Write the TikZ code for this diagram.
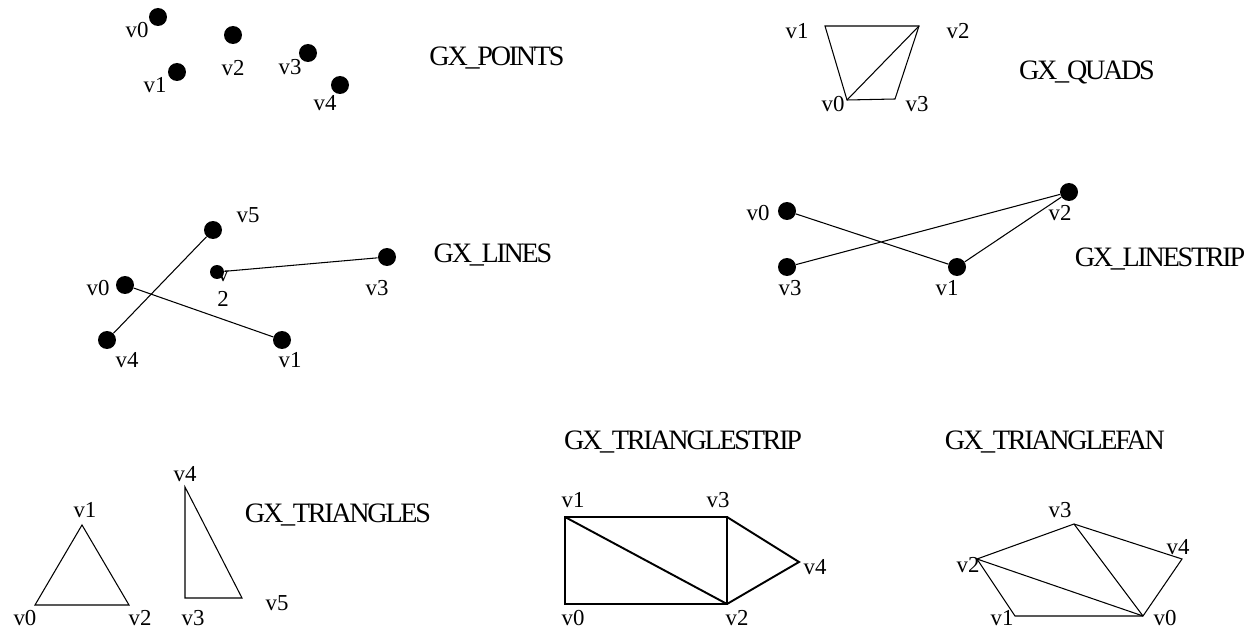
\documentclass[tikz,border=0pt]{standalone}
\usepackage{fontspec}
\setmainfont{Liberation Serif}
\newcommand{\vfont}{\fontsize{13}{14.5}\selectfont}
\newcommand{\gxfont}{\fontsize{16}{18}\selectfont\addfontfeatures{LetterSpace=-8}}

\begin{document}
\begin{tikzpicture}[
  x=0.02cm, y=-0.02cm,
  dot/.style={circle, fill=black, inner sep=0pt, minimum size=0.36cm},
  smalldot/.style={dot, minimum size=0.28cm},
  vlabel/.style={inner sep=0pt, font=\vfont},
  gxtitle/.style={inner sep=0pt, font=\gxfont},
  edge/.style={draw=black, line width=0.6pt},
  boldedge/.style={draw=black, line width=1.1pt, line join=miter}
]

  \useasboundingbox (0,0) rectangle (1255,628);

  % GX_POINTS
  \node[dot] (pt0) at (158,17) {};
  \node[dot] (pt1) at (177,72) {};
  \node[dot] (pt2) at (233,35) {};
  \node[dot] (pt3) at (308,53) {};
  \node[dot] (pt4) at (340,85) {};
  \node[vlabel] (pt0lab) at (137,30) {v0};
  \node[vlabel] (pt1lab) at (155,85) {v1};
  \node[vlabel] (pt2lab) at (233,68) {v2};
  \node[vlabel] (pt3lab) at (290,67) {v3};
  \node[vlabel] (pt4lab) at (325,103) {v4};
  \node[gxtitle] (points) at (497,58) {GX\_POINTS};

  % GX_QUADS
  \coordinate (qd0) at (847,100);
  \coordinate (qd1) at (825,26);
  \coordinate (qd2) at (919,26);
  \coordinate (qd3) at (895,99);
  \draw[edge] (qd0) -- (qd1) -- (qd2) -- (qd3) -- cycle;
  \draw[edge] (qd0) -- (qd2);
  \node[vlabel] (qd0lab) at (833,104) {v0};
  \node[vlabel] (qd1lab) at (797,31) {v1};
  \node[vlabel] (qd2lab) at (958,31) {v2};
  \node[vlabel] (qd3lab) at (917,104) {v3};
  \node[gxtitle] (quads) at (1087,72) {GX\_QUADS};

  % GX_LINES
  \node[vlabel, align=center] (ln2lab) at (223,289) {v\\2};
  \node[dot] (ln0) at (125,285) {};
  \node[dot] (ln1) at (282,340) {};
  \node[smalldot] (ln2) at (217,272) {};
  \node[dot] (ln3) at (387,257) {};
  \node[dot] (ln4) at (107,340) {};
  \node[dot] (ln5) at (213,230) {};
  \draw[edge] (ln0) -- (ln1);
  \draw[edge] (ln2) -- (ln3);
  \draw[edge] (ln4) -- (ln5);
  \node[vlabel] (ln0lab) at (98,288) {v0};
  \node[vlabel] (ln1lab) at (290,360) {v1};
  \node[vlabel] (ln3lab) at (377,288) {v3};
  \node[vlabel] (ln4lab) at (127,360) {v4};
  \node[vlabel] (ln5lab) at (248,215) {v5};
  \node[gxtitle] (lines) at (493,255) {GX\_LINES};

  % GX_LINESTRIP
  \node[dot] (ls0) at (787,211) {};
  \node[dot] (ls1) at (957,267) {};
  \node[dot] (ls2) at (1069,192) {};
  \node[dot] (ls3) at (787,267) {};
  \draw[edge] (ls0) -- (ls1) -- (ls2) -- (ls3);
  \node[vlabel] (ls0lab) at (758,213) {v0};
  \node[vlabel] (ls1lab) at (947,288) {v1};
  \node[vlabel] (ls2lab) at (1060,213) {v2};
  \node[vlabel] (ls3lab) at (790,288) {v3};
  \node[gxtitle] (linestrip) at (1160,259) {GX\_LINESTRIP};

  % GX_TRIANGLES
  \coordinate (tr0) at (35,605);
  \coordinate (tr1) at (82,525);
  \coordinate (tr2) at (129,605);
  \coordinate (tr3) at (185,598);
  \coordinate (tr4) at (185,487);
  \coordinate (tr5) at (242,598);
  \draw[edge] (tr0) -- (tr1) -- (tr2) -- cycle;
  \draw[edge] (tr3) -- (tr4) -- (tr5) -- cycle;
  \node[vlabel] (tr0lab) at (25,618) {v0};
  \node[vlabel] (tr1lab) at (85,510) {v1};
  \node[vlabel] (tr2lab) at (140,618) {v2};
  \node[vlabel] (tr3lab) at (193,618) {v3};
  \node[vlabel] (tr4lab) at (185,474) {v4};
  \node[vlabel] (tr5lab) at (277,603) {v5};
  \node[gxtitle] (triangles) at (338,515) {GX\_TRIANGLES};

  % GX_TRIANGLESTRIP
  \coordinate (st0) at (565,604);
  \coordinate (st1) at (565,517);
  \coordinate (st2) at (727,604);
  \coordinate (st3) at (727,517);
  \coordinate (st4) at (799,562);
  \draw[boldedge] (st0) -- (st1) -- (st3) -- (st2) -- cycle;
  \draw[boldedge] (st1) -- (st2);
  \draw[boldedge] (st3) -- (st4) -- (st2);
  \node[vlabel] (st0lab) at (573,618) {v0};
  \node[vlabel] (st1lab) at (573,500) {v1};
  \node[vlabel] (st2lab) at (737,618) {v2};
  \node[vlabel] (st3lab) at (718,500) {v3};
  \node[vlabel] (st4lab) at (815,567) {v4};
  \node[gxtitle] (trianglestrip) at (683,442) {GX\_TRIANGLESTRIP};

  % GX_TRIANGLEFAN
  \coordinate (fn0) at (1143,616);
  \coordinate (fn1) at (1015,616);
  \coordinate (fn2) at (977,559);
  \coordinate (fn3) at (1074,524);
  \coordinate (fn4) at (1182,559);
  \draw[edge] (fn0) -- (fn1) -- (fn2) -- (fn3) -- (fn4) -- cycle;
  \draw[edge] (fn0) -- (fn2);
  \draw[edge] (fn0) -- (fn3);
  \node[vlabel] (fn0lab) at (1165,618) {v0};
  \node[vlabel] (fn1lab) at (1002,618) {v1};
  \node[vlabel] (fn2lab) at (968,565) {v2};
  \node[vlabel] (fn3lab) at (1060,510) {v3};
  \node[vlabel] (fn4lab) at (1178,547) {v4};
  \node[gxtitle] (trianglefan) at (1055,442) {GX\_TRIANGLEFAN};

\end{tikzpicture}
\end{document}
